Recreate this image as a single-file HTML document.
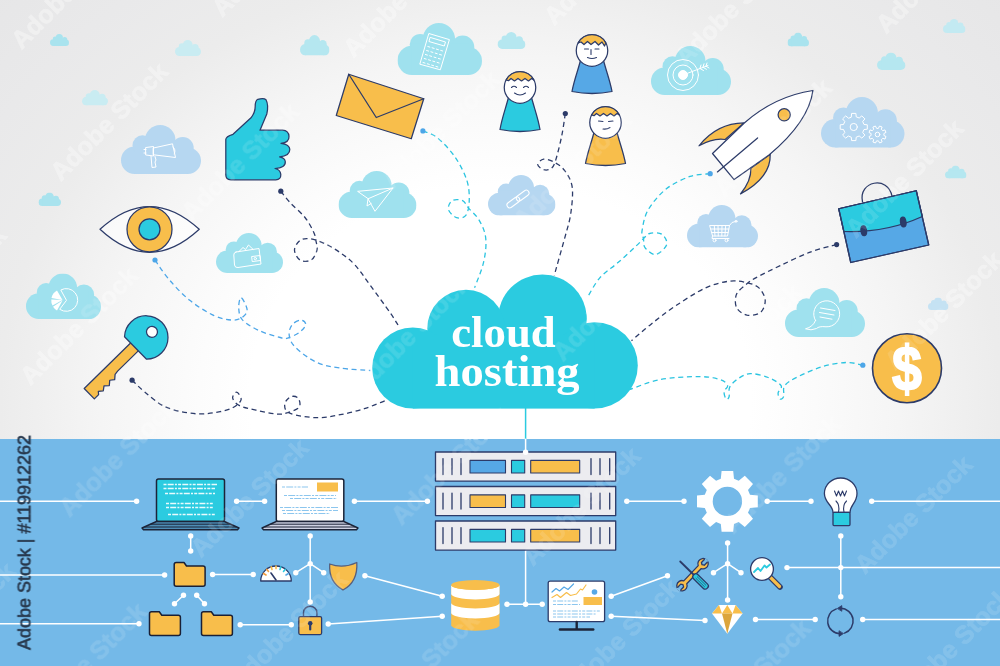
<!DOCTYPE html>
<html>
<head>
<meta charset="utf-8">
<title>cloud hosting</title>
<style>
html,body{margin:0;padding:0;background:#fff;}
body{width:1000px;height:666px;overflow:hidden;font-family:"Liberation Sans",sans-serif;}
svg{display:block}
</style>
</head>
<body>
<svg width="1000" height="666" viewBox="0 0 1000 666">
<defs>
  <radialGradient id="bg" cx="500" cy="400" r="700" gradientUnits="userSpaceOnUse" gradientTransform="translate(500,400) scale(1,0.862) translate(-500,-400)">
    <stop offset="0" stop-color="#ffffff"/>
    <stop offset="0.357" stop-color="#ffffff"/>
    <stop offset="0.43" stop-color="#fcfcfc"/>
    <stop offset="0.571" stop-color="#f5f5f5"/>
    <stop offset="0.664" stop-color="#efefef"/>
    <stop offset="0.714" stop-color="#ececec"/>
    <stop offset="0.85" stop-color="#e9e9ea"/>
    <stop offset="1" stop-color="#e6e6e7"/>
  </radialGradient>
  <symbol id="cl" viewBox="0 0 84.5 51.1" preserveAspectRatio="none">
    <circle cx="14.4" cy="36.7" r="14.4"/>
    <circle cx="22.7" cy="21.2" r="10.5"/>
    <circle cx="41.4" cy="16.2" r="16.2"/>
    <circle cx="65.2" cy="24" r="11.6"/>
    <circle cx="70.7" cy="37.3" r="13.8"/>
    <rect x="14.4" y="20" width="56.3" height="31.1"/>
  </symbol>
<g id="wmt" fill="#ffffff" stroke="#ffffff" stroke-width="0.7" font-family="'Liberation Sans',sans-serif" font-weight="bold" font-size="25.2" text-anchor="middle">
<text transform="translate(-61.8,-51.1) rotate(-45)" y="9">Adobe Stock</text>
<text transform="translate(-52.8,285.0) rotate(-45)" y="9">Adobe Stock</text>
<text transform="translate(-43.8,621.1) rotate(-45)" y="9">Adobe Stock</text>
<text transform="translate(69.5,-10.6) rotate(-45)" y="9">Adobe Stock</text>
<text transform="translate(78.5,325.5) rotate(-45)" y="9">Adobe Stock</text>
<text transform="translate(87.5,661.6) rotate(-45)" y="9">Adobe Stock</text>
<text transform="translate(108.7,121.1) rotate(-45)" y="9">Adobe Stock</text>
<text transform="translate(117.7,457.2) rotate(-45)" y="9">Adobe Stock</text>
<text transform="translate(240.0,161.6) rotate(-45)" y="9">Adobe Stock</text>
<text transform="translate(249.0,497.7) rotate(-45)" y="9">Adobe Stock</text>
<text transform="translate(270.2,-42.8) rotate(-45)" y="9">Adobe Stock</text>
<text transform="translate(279.2,293.3) rotate(-45)" y="9">Adobe Stock</text>
<text transform="translate(288.2,629.4) rotate(-45)" y="9">Adobe Stock</text>
<text transform="translate(401.5,-2.3) rotate(-45)" y="9">Adobe Stock</text>
<text transform="translate(410.5,333.8) rotate(-45)" y="9">Adobe Stock</text>
<text transform="translate(419.5,669.9) rotate(-45)" y="9">Adobe Stock</text>
<text transform="translate(440.7,129.4) rotate(-45)" y="9">Adobe Stock</text>
<text transform="translate(449.7,465.5) rotate(-45)" y="9">Adobe Stock</text>
<text transform="translate(572.0,169.9) rotate(-45)" y="9">Adobe Stock</text>
<text transform="translate(581.0,506.0) rotate(-45)" y="9">Adobe Stock</text>
<text transform="translate(602.2,-34.5) rotate(-45)" y="9">Adobe Stock</text>
<text transform="translate(611.2,301.6) rotate(-45)" y="9">Adobe Stock</text>
<text transform="translate(620.2,637.7) rotate(-45)" y="9">Adobe Stock</text>
<text transform="translate(733.5,6.0) rotate(-45)" y="9">Adobe Stock</text>
<text transform="translate(742.5,342.1) rotate(-45)" y="9">Adobe Stock</text>
<text transform="translate(751.5,678.2) rotate(-45)" y="9">Adobe Stock</text>
<text transform="translate(772.7,137.7) rotate(-45)" y="9">Adobe Stock</text>
<text transform="translate(781.7,473.8) rotate(-45)" y="9">Adobe Stock</text>
<text transform="translate(904.0,178.2) rotate(-45)" y="9">Adobe Stock</text>
<text transform="translate(913.0,514.3) rotate(-45)" y="9">Adobe Stock</text>
<text transform="translate(934.2,-26.2) rotate(-45)" y="9">Adobe Stock</text>
<text transform="translate(943.2,309.9) rotate(-45)" y="9">Adobe Stock</text>
<text transform="translate(952.2,646.0) rotate(-45)" y="9">Adobe Stock</text>
<text transform="translate(1065.5,14.3) rotate(-45)" y="9">Adobe Stock</text>
<text transform="translate(1074.5,350.4) rotate(-45)" y="9">Adobe Stock</text>
</g>
<clipPath id="topclip"><rect x="0" y="0" width="1000" height="439.3"/></clipPath>
</defs>
<!-- BACKGROUND -->
<rect x="0" y="0" width="1000" height="666" fill="url(#bg)"/>
<rect x="0" y="439" width="1000" height="227" fill="#74b9e8"/>

<g clip-path="url(#topclip)"><use href="#wmt" opacity="0.27"/></g>
<!-- SMALL CLOUDS -->
<g id="smallclouds">
<use href="#cl" x="50" y="34" width="19" height="12" fill="#a9e3ee"/>
<use href="#cl" x="175" y="40" width="26" height="16" fill="#c9ecf2"/>
<use href="#cl" x="82" y="90" width="26" height="15.5" fill="#c9ecf2"/>
<use href="#cl" x="300" y="35" width="29.5" height="20.5" fill="#b5e7f0"/>
<use href="#cl" x="497.5" y="32" width="28" height="17" fill="#b5e7f0"/>
<use href="#cl" x="787.5" y="32.5" width="21.5" height="14" fill="#a9e3ee"/>
<use href="#cl" x="877" y="52.5" width="28.5" height="17.5" fill="#b5e7f0"/>
<use href="#cl" x="943" y="19" width="22.5" height="14" fill="#c3eaf2"/>
<use href="#cl" x="38.5" y="192.5" width="22.5" height="13.5" fill="#a9e3ee"/>
<use href="#cl" x="945" y="165.5" width="21.5" height="13" fill="#b5e7f0"/>
<use href="#cl" x="928" y="297.5" width="20.5" height="12.5" fill="#c5e2f3"/>
</g>

<!-- MEDIUM CLOUDS -->
<g id="medclouds">
<use href="#cl" x="121" y="125" width="80" height="49" fill="#b6d7f1"/>
<use href="#cl" x="397.5" y="23" width="84.5" height="52" fill="#9fe1ee"/>
<use href="#cl" x="338.5" y="171" width="78" height="47" fill="#9fe1ee"/>
<use href="#cl" x="216" y="233" width="67" height="40" fill="#9fe1ee"/>
<use href="#cl" x="26" y="273.5" width="75" height="45.5" fill="#9fe1ee"/>
<use href="#cl" x="488" y="175" width="67.5" height="40.5" fill="#b6d7f1"/>
<use href="#cl" x="651" y="46" width="80" height="49" fill="#9fe1ee"/>
<use href="#cl" x="821" y="97" width="83.5" height="50.5" fill="#b6d7f1"/>
<use href="#cl" x="687" y="205" width="71" height="42.5" fill="#b6d7f1"/>
<use href="#cl" x="785" y="288" width="80" height="49" fill="#9fe1ee"/>
</g>

<!-- CLOUD ICONS -->
<g id="cloudicons" fill="none" stroke="#ffffff" stroke-width="1" stroke-linejoin="round" stroke-linecap="round">
<!-- megaphone -->
<path d="M153.5,148 L172.5,143.8 L175.5,157.5 L153.5,154.8 Z M172.8,147 q3.5,2 1.5,7 M146,147.5 L153.5,146.5 L153.5,156 L146,155 Z M144,149.5 l2,0 M144,153 l2,0 M151,156 L152,167.5 L156,167 L155,162 L156,160 L155,156.5"/>
<!-- calculator -->
<path d="M429.2,33.6 L449.4,39.6 L440.3,69.8 L420.2,64.3 Z M430.5,37.5 L445.5,42 L444.3,46 L429.3,41.6 Z"/>
<path d="M427.8,46.5 l2,0.6 m2.3,0.7 l2,0.6 m2.3,0.7 l2,0.6 m2.3,0.7 l2,0.6 M426.6,50.5 l2,0.6 m2.3,0.7 l2,0.6 m2.3,0.7 l2,0.6 m2.3,0.7 l2,0.6 M425.4,54.5 l2,0.6 m2.3,0.7 l2,0.6 m2.3,0.7 l2,0.6 m2.3,0.7 l2,0.6 M424.2,58.5 l2,0.6 m2.3,0.7 l2,0.6 m2.3,0.7 l2,0.6 m2.3,0.7 l2,0.6 M423,62.5 l2,0.6 m2.3,0.7 l2,0.6 m2.3,0.7 l2,0.6 m2.3,0.7 l2,0.6"/>
<!-- paper plane -->
<path d="M358,191.3 L393,188 L375,211.3 L368,198.8 Z M393,188 L368,198.8 L367,206 L371.2,203.5"/>
<!-- wallet -->
<path d="M236,252 L259,248.5 L261,264 L238,267.5 Q235,268 234.5,265 L233.8,255 Q233.6,252.5 236,252 Z M239,251.5 L243,247.5 L245.5,249.5 L248.5,245 L253,249.3 M252,256.5 L260,255.5 L260.6,260.5 L252.6,261.5 Z"/>
<circle cx="255.3" cy="258.6" r="1.2"/>
<!-- pie -->
<path d="M66.3,300 L60.8,290 A11.4,11.4 0 1 1 60,309.5 Z"/>
<path d="M62.5,300 L57,290.5 A11,11 0 0 0 51.5,298 Z M62.5,300 L51.3,299.5 A11,11 0 0 0 52.5,305.5 Z M62.5,300.5 L53,306.8 A11,11 0 0 0 57,310.5 Z" fill="#ffffff" stroke="none"/>
<!-- link -->
<g transform="translate(518,199) rotate(-36)">
<rect x="-13" y="-2.8" width="14.5" height="5.6" rx="2.8"/>
<rect x="-1.5" y="-2.8" width="14.5" height="5.6" rx="2.8"/>
</g>
<!-- target -->
<circle cx="683" cy="75" r="15.5"/><circle cx="683" cy="75" r="10"/><circle cx="683" cy="75" r="4.5" fill="#ffffff"/>
<path d="M683,75 L708,65.5 M700,68.5 l1,-3.5 M700,68.5 l3.5,2 M703,67.3 l1,-3.5 M703,67.3 l3.5,2 M706,66.2 l1,-3.2 M706,66.2 l3,1.8"/>
<!-- gears -->
<path d="M851.3,116.8 L851.6,113.4 L855.9,113.4 L856.2,116.8 L859.2,118.0 L861.8,115.9 L864.9,118.9 L862.7,121.5 L864.0,124.5 L867.3,124.8 L867.3,129.2 L864.0,129.5 L862.7,132.5 L864.9,135.1 L861.8,138.1 L859.2,136.0 L856.2,137.2 L855.9,140.6 L851.6,140.6 L851.3,137.2 L848.3,136.0 L845.7,138.1 L842.6,135.1 L844.8,132.5 L843.5,129.5 L840.2,129.2 L840.2,124.8 L843.5,124.5 L844.8,121.5 L842.6,118.9 L845.7,115.9 L848.3,118.0Z"/>
<circle cx="853.75" cy="127" r="3.6"/>
<path d="M878.5,128.1 L879.5,126.0 L882.1,127.0 L881.3,129.2 L882.7,130.7 L884.9,129.9 L886.0,132.4 L883.9,133.5 L883.9,135.5 L886.0,136.5 L885.0,139.1 L882.8,138.3 L881.3,139.7 L882.1,141.9 L879.6,143.0 L878.5,140.9 L876.5,140.9 L875.5,143.0 L872.9,142.0 L873.7,139.8 L872.3,138.3 L870.1,139.1 L869.0,136.6 L871.1,135.5 L871.1,133.5 L869.0,132.5 L870.0,129.9 L872.2,130.7 L873.7,129.3 L872.9,127.1 L875.4,126.0 L876.5,128.1Z"/>
<circle cx="877.5" cy="134.5" r="2.3"/>
<!-- cart -->
<path d="M710,225.5 L729.5,225.5 L727.5,236 L713,236 Z M729.5,225.5 L732,222.5 L735.5,221.5 M712.5,236 L712,238.5 L729,238.5 M714.3,225.5 l0.7,10.5 M718,225.5 l0.3,10.5 M722,225.5 l-0.2,10.5 M725.7,225.5 l-0.8,10.5 M711,229 l17.8,0 M712,232.5 l16,0"/>
<circle cx="714.5" cy="240.3" r="1.5"/><circle cx="726.5" cy="240.3" r="1.5"/><circle cx="736" cy="221.3" r="1"/>
<!-- chat -->
<path d="M815.5,320.5 A13,13 0 1 1 826,326.8 Q819,326 816.5,328.5 Q811,331 805.5,328.8 Q813,327 815.5,320.5 Z M820.5,308 l14.5,2.5 M819.5,312.5 l14.5,2.5 M820,317 l12,2.2"/>
</g>

<!-- DASHED PATHS -->
<g id="paths" fill="none" stroke-width="1.3" stroke-dasharray="5 3.6" stroke-linecap="butt">
<path d="M155.0,260.0 C157.3,263.3 163.2,272.8 169.1,279.5 C174.9,286.3 182.6,294.6 190.1,300.6 C197.6,306.6 207.1,312.3 214.1,315.6 C221.1,318.8 227.4,319.8 232.1,320.1 C236.9,320.3 240.1,318.8 242.6,317.1 C245.1,315.3 247.4,312.8 247.1,309.6 C246.9,306.3 242.5,297.8 241.1,297.6 C239.7,297.3 238.5,304.3 238.7,308.1 C239.0,311.8 239.2,316.3 242.6,320.1 C246.0,323.8 252.9,327.7 259.2,330.6 C265.4,333.5 275.4,336.3 280.2,337.5 C284.9,338.8 284.4,339.0 287.7,338.1 C290.9,337.2 296.7,334.4 299.7,332.1 C302.7,329.8 305.5,326.6 305.7,324.6 C306.0,322.6 303.5,320.1 301.2,320.1 C298.9,320.1 294.2,322.1 292.2,324.6 C290.2,327.1 288.7,331.4 289.2,335.1 C289.7,338.9 290.7,342.6 295.2,347.1 C299.7,351.6 308.7,358.6 316.2,362.1 C323.7,365.6 331.2,366.7 340.2,368.1 C349.2,369.5 365.3,370.1 370.3,370.5" stroke="#4da6e8"/>
<circle cx="155.0" cy="260.0" r="2.6" fill="#4da6e8" stroke="none"/>
<path d="M132.1,380.2 C134.3,382.2 139.4,387.7 145.0,392.2 C150.7,396.7 157.6,403.6 166.1,407.2 C174.6,410.8 187.1,413.0 196.1,413.8 C205.1,414.5 213.9,412.8 220.1,411.7 C226.4,410.6 230.1,409.2 233.6,407.2 C237.1,405.2 240.6,402.2 241.1,399.7 C241.6,397.2 238.0,392.4 236.6,392.2 C235.2,391.9 232.2,395.9 232.7,398.2 C233.2,400.4 235.7,403.7 239.6,405.7 C243.5,407.7 249.9,408.8 256.2,410.2 C262.4,411.6 271.9,413.7 277.2,414.1 C282.4,414.5 284.0,413.7 287.7,412.6 C291.3,411.4 297.3,409.6 299.1,407.2 C300.9,404.8 299.6,399.9 298.2,398.2 C296.8,396.4 292.9,395.7 290.7,396.7 C288.4,397.7 284.8,401.4 284.7,404.2 C284.5,406.9 284.5,410.9 289.8,413.2 C295.0,415.4 307.8,417.4 316.2,417.7 C324.6,417.9 332.2,416.2 340.2,414.7 C348.2,413.2 356.8,411.0 364.3,408.7 C371.8,406.3 381.8,401.9 385.3,400.6" stroke="#2c3b69"/>
<circle cx="132.1" cy="380.2" r="2.6" fill="#2c3b69" stroke="none"/>
<path d="M280.8,191.2 C282.3,193.1 286.0,198.1 290.0,202.5 C294.0,206.9 301.0,212.5 305.0,217.5 C309.0,222.5 311.9,228.5 313.8,232.5 C315.6,236.5 315.5,238.3 316.0,241.2 C316.5,244.2 317.8,246.9 317.0,250.0 C316.2,253.1 314.1,258.3 311.2,260.0 C308.4,261.7 302.8,261.7 300.0,260.0 C297.2,258.3 294.5,253.2 294.5,250.0 C294.5,246.8 297.4,242.4 300.0,240.5 C302.6,238.6 305.8,238.2 310.0,238.8 C314.2,239.3 320.0,241.5 325.0,243.8 C330.0,246.0 335.0,249.0 340.0,252.5 C345.0,256.0 350.0,259.6 355.0,265.0 C360.0,270.4 364.2,277.1 370.0,285.0 C375.8,292.9 385.3,305.8 390.0,312.5 C394.7,319.2 396.7,322.9 398.0,325.0" stroke="#2c3b69"/>
<circle cx="280.8" cy="191.2" r="2.6" fill="#2c3b69" stroke="none"/>
<path d="M422.9,130.9 C425.3,132.0 431.7,133.2 437.1,137.5 C442.4,141.9 450.1,149.8 455.1,157.1 C460.1,164.3 464.7,173.6 467.1,181.1 C469.4,188.6 469.4,196.3 469.2,202.1 C468.9,207.9 467.7,213.0 465.6,215.6 C463.5,218.2 459.4,218.7 456.6,217.7 C453.7,216.7 449.2,212.5 448.5,209.6 C447.7,206.8 449.7,202.1 452.1,200.6 C454.4,199.1 459.8,199.3 462.6,200.6 C465.3,201.9 465.8,204.9 468.6,208.1 C471.3,211.4 476.2,215.1 479.1,220.1 C482.0,225.1 485.0,231.1 485.7,238.1 C486.5,245.1 485.5,253.9 483.6,262.2 C481.8,270.4 476.1,283.4 474.6,287.7" stroke="#2bc4e0"/>
<circle cx="422.9" cy="130.9" r="2.6" fill="#4da6e8" stroke="none"/>
<path d="M565.3,113.5 C564.7,117.3 563.3,128.3 561.7,136.0 C560.1,143.8 557.4,154.7 555.7,160.1 C553.9,165.5 553.2,166.9 551.2,168.5 C549.2,170.1 545.9,170.3 543.7,169.7 C541.4,169.0 537.7,166.3 537.7,164.6 C537.7,162.8 540.9,159.6 543.7,159.2 C546.4,158.8 550.7,160.3 554.2,162.2 C557.7,164.1 561.7,166.4 564.7,170.6 C567.7,174.7 571.2,179.8 572.2,187.1 C573.2,194.3 571.9,205.6 570.7,214.1 C569.4,222.6 567.4,227.9 564.7,238.1 C561.9,248.4 555.9,269.4 554.2,275.7" stroke="#2c3b69"/>
<circle cx="565.3" cy="113.5" r="2.6" fill="#2c3b69" stroke="none"/>
<path d="M710.2,173.7 C706.9,174.2 697.4,173.9 690.1,176.4 C682.7,179.0 673.1,183.4 666.1,189.0 C659.1,194.6 652.1,203.1 648.0,210.1 C644.0,217.1 642.8,226.3 642.0,231.1 C641.3,235.8 643.0,235.8 643.5,238.6 C644.0,241.3 643.0,244.9 645.0,247.6 C647.0,250.3 652.0,255.0 655.6,254.5 C659.2,254.0 665.7,248.0 666.7,244.6 C667.7,241.2 664.4,235.9 661.6,234.1 C658.7,232.2 652.6,232.7 649.5,233.5 C646.5,234.2 645.8,236.5 643.5,238.6 C641.3,240.7 640.3,242.1 636.0,246.1 C631.8,250.1 624.0,257.4 618.0,262.6 C612.0,267.9 605.2,271.7 600.0,277.6 C594.8,283.5 589.2,294.6 587.0,298.0" stroke="#2bc4e0"/>
<circle cx="710.2" cy="173.7" r="2.6" fill="#4da6e8" stroke="none"/>
<path d="M836.6,244.6 C832.2,245.8 819.6,248.6 810.2,252.1 C800.8,255.6 789.2,261.4 780.2,265.6 C771.2,269.9 761.7,274.6 756.2,277.6 C750.7,280.6 750.4,280.9 747.1,283.6 C743.9,286.4 738.4,290.1 736.6,294.1 C734.9,298.1 734.9,304.2 736.6,307.7 C738.4,311.2 743.1,314.4 747.1,315.2 C751.2,315.9 757.7,314.7 760.7,312.2 C763.7,309.7 765.4,304.2 765.2,300.2 C764.9,296.1 762.2,291.0 759.2,288.1 C756.2,285.2 752.2,283.9 747.1,282.7 C742.1,281.6 736.1,280.3 729.1,281.2 C722.1,282.1 714.1,284.0 705.1,288.1 C696.1,292.3 684.1,300.2 675.1,306.2 C666.1,312.2 658.3,318.4 651.1,324.2 C643.8,329.9 634.8,337.9 631.5,340.7" stroke="#2c3b69"/>
<circle cx="836.6" cy="244.6" r="2.6" fill="#2c3b69" stroke="none"/>
<path d="M862.8,365.2 C860.0,364.7 853.0,362.2 846.2,362.5 C839.5,362.7 830.2,364.3 822.2,366.7 C814.2,369.0 804.5,373.4 798.2,376.6 C791.9,379.7 787.1,382.3 784.7,385.6 C782.3,388.8 784.5,393.8 783.8,396.1 C783.0,398.3 781.1,399.6 780.2,399.1 C779.2,398.6 777.9,395.3 778.1,393.1 C778.2,390.8 782.7,388.2 781.1,385.6 C779.4,383.0 773.3,379.5 768.2,377.5 C763.0,375.5 755.2,373.4 750.2,373.6 C745.1,373.8 741.5,376.4 738.1,378.7 C734.7,380.9 731.2,384.1 729.7,387.1 C728.2,390.1 729.7,394.7 729.1,396.7 C728.5,398.7 727.0,399.9 726.1,399.1 C725.3,398.2 723.8,393.8 724.0,391.6 C724.3,389.3 728.3,387.6 727.6,385.6 C727.0,383.6 724.9,381.1 720.1,379.6 C715.4,378.1 709.1,376.6 699.1,376.6 C689.1,376.6 671.6,377.4 660.1,379.6 C648.5,381.7 635.0,387.8 630.0,389.5" stroke="#2bc4e0"/>
<circle cx="862.8" cy="365.2" r="2.6" fill="#4da6e8" stroke="none"/>

</g>

<!-- MAIN CLOUD -->
<g id="maincloud" fill="#2bcbe0">
<circle cx="542.4" cy="319" r="44.4"/>
<circle cx="466" cy="328.4" r="38.7"/>
<circle cx="412.8" cy="368" r="40.6"/>
<circle cx="594.6" cy="365.4" r="43.2"/>
<rect x="412.8" y="335" width="181.8" height="73.6"/>
</g>
<g fill="#ffffff" font-family="'Liberation Serif',serif" font-weight="bold" font-size="44.4">
<text x="451.2" y="346.8" textLength="104.5" lengthAdjust="spacingAndGlyphs">cloud</text>
<text x="434.6" y="386.1" textLength="145" lengthAdjust="spacingAndGlyphs">hosting</text>
</g>

<!-- TOP ICONS -->
<g id="topicons" stroke="#2c3b69" stroke-width="1.25" stroke-linejoin="round" stroke-linecap="round">
<!-- thumb -->
<path d="M225.8,139.5 L225.8,174.8 Q225.8,179.8 230.8,179.8 L275.8,179.8 Q281,179.8 280.8,174.4 Q280.3,169.6 275,168.5 Q285.6,168 285.3,161.8 Q285,157.9 279.6,156.8 Q290,156 289.8,149.3 Q289.6,144.4 281,143.3 Q289.3,142.5 289,136.5 Q288.6,130.5 282.6,130.2 L260,130.2 L266.8,114 Q268.8,105 266,99.8 Q263.8,97.5 257.8,99.3 Q255.2,100.5 255.2,106.5 Q255.2,112.5 251,117.8 L233,134.3 Q225.8,136.5 225.8,139.5 Z" fill="#2bcbe0"/>
<!-- envelope -->
<path d="M348.75,74.25 L423.75,98.75 L411.25,138.75 L336.25,115.5 Z" fill="#f8be4b"/>
<path d="M348.75,74.25 L376.25,117.5 L423.75,98.75" fill="none"/>
<!-- person 1 -->
<g transform="translate(520,87.5)">
<path d="M-11,8 C-14,20 -18,30 -20,42 Q0,46 20,42 C18,30 14,20 11,8 Z" fill="#2bcbe0"/>
<circle r="15.75" fill="#ffffff"/>
<path d="M-13.85,-7.5 A15.75,15.75 0 0 1 13.85,-7.5 L11.5,-9 L8.5,-6.6 L5,-9 L1.5,-6.6 L-2,-9 L-5.5,-6.6 L-9,-9 L-11.5,-6.8 Z" fill="#f8be4b"/>
<path d="M-8.5,0 q2.5,-2.5 5,0 M3.5,0 q2.5,-2.5 5,0 M-5.5,5.5 q5.5,4 11,0" fill="none" stroke-width="1.1"/>
</g>
<!-- person 2 -->
<g transform="translate(592,50.5)">
<path d="M-11,8 C-14,20 -18,30 -20,41 Q0,45 20,41 C18,30 14,20 11,8 Z" fill="#56a8e6"/>
<circle r="15.75" fill="#ffffff"/>
<path d="M-13.85,-7.5 A15.75,15.75 0 0 1 13.85,-7.5 L12.5,-4.5 L10,-8.5 L6.5,-5.5 L3,-9 L-1,-6 L-4.5,-9 L-8,-6 L-11,-8.5 Z" fill="#f8be4b"/>
<path d="M-7.5,-1.5 l4,0 M3,-1.5 l4,0 M-1,-1 l0,5 M-4.5,7 q4.5,2 9,0" fill="none" stroke-width="1.1"/>
</g>
<!-- person 3 -->
<g transform="translate(605.5,122.5)">
<path d="M-11,8 C-14,20 -18,30 -20,41 Q0,45 20,41 C18,30 14,20 11,8 Z" fill="#f8be4b"/>
<circle r="15.75" fill="#ffffff"/>
<path d="M-13.85,-7.5 A15.75,15.75 0 0 1 13.85,-7.5 L11.5,-9 L8.5,-6.6 L5,-9 L1.5,-6.6 L-2,-9 L-5.5,-6.6 L-9,-9 L-11.5,-6.8 Z" fill="#f8be4b"/>
<path d="M-7,-1.5 l4.5,0.5 M3,-1 l4.5,-0.5 M-2.5,6.5 q4,0.5 7,-1.5" fill="none" stroke-width="1.1"/>
</g>
<!-- rocket -->
<path d="M744,122.9 Q717,123.2 699,145.8 Q713.4,137.7 725.1,139.5 Z" fill="#f8be4b"/>
<path d="M770.2,154.2 Q771.1,177.3 740.5,193.9 Q751.3,180.9 750.9,168.3 Z" fill="#f8be4b"/>
<path d="M712.5,153.5 L744,123.2 Q774.7,96.2 812.9,90.5 Q808.9,121.4 769.3,154.8 L734.1,179.6 Z" fill="#ffffff"/>
<path d="M757.6,138 L717.4,171.9" fill="none"/>
<circle cx="784.2" cy="114.8" r="6.1" fill="#f8be4b"/>
<!-- briefcase -->
<path d="M862.5,201.75 C858,181 888,175 892,196.25" fill="none"/>
<path d="M838.75,208.75 L916.25,190.75 L928.75,245 L850.75,262.5 Z" fill="#56a8e6"/>
<path d="M838.75,208.75 L916.25,190.75 L922.3,216.5 Q886,233 843.9,231.5 Z" fill="#2bcbe0"/>
<ellipse cx="863.75" cy="230.75" rx="2.75" ry="5" fill="#2c3b69" transform="rotate(-8 863.75 230.75)"/>
<ellipse cx="903.25" cy="222" rx="2.75" ry="5" fill="#2c3b69" transform="rotate(-8 903.25 222)"/>
<path d="M838.75,208.75 L916.25,190.75 L928.75,245 L850.75,262.5 Z" fill="none"/>
<!-- dollar coin -->
<circle cx="907" cy="368.25" r="34.5" fill="#f8be4b" stroke-width="1.6"/>
<text transform="translate(907,390.3) scale(0.96,1.14)" x="0" y="0" text-anchor="middle" font-family="'Liberation Sans',sans-serif" font-weight="bold" font-size="56" fill="#ffffff" stroke="#ffffff" stroke-width="1.6" stroke-linejoin="miter">$</text>
<!-- eye -->
<path d="M100,229.3 Q149.5,183.8 199.25,229.3 Q149.5,275.3 100,229.3 Z" fill="#ffffff" fill-opacity="0.6"/>
<circle cx="149.5" cy="229.3" r="22.5" fill="#f8be4b"/>
<circle cx="149.5" cy="229.3" r="10.5" fill="#2bcbe0"/>
<!-- key -->
<g transform="translate(146.25,337.5) rotate(135.6)">
<path d="M14,7 L80,7 L80,-7.5 L74,-7.5 L72,-5 L68,-8 L64,-5 L60,-8.5 L56,-5 L52,-8 L48,-4.5 L44,-4 L14,-4 Z" fill="#f8be4b"/>
<path d="M15,-15.75 A21.75,21.75 0 1 0 15,15.75 Z" fill="#2bcbe0"/>
<circle cx="-8" cy="0" r="5.5" fill="#ffffff"/>
</g>
</g>

<!-- BOTTOM BAND -->
<g id="band">
<!-- connector lines -->
<g stroke="#ffffff" stroke-width="1.5" fill="none" stroke-linecap="round">
<path d="M525.6,408 L525.6,439.3" stroke="#2bcbe0"/><path d="M525.6,439.3 L525.6,452.6"/>
<path d="M0,501.3 L136.6,501.3 M236.6,501.3 L264.6,501.3 M354.4,501.3 L427.4,501.3 M626.8,501.3 L684,501.3 M767.2,501.3 L811,501.3 M871.7,501.3 L1000,501.3"/>
<path d="M190.7,536 L190.7,551 M310.2,536 L310.2,602 M310.2,563.7 L295.8,572.7 M310.2,563.7 L323.7,572.7"/>
<path d="M0,575 L164.6,575 M212.6,574.5 L253.2,574.5 M364.9,575.7 L442.2,596.2 M328.2,624 L442.2,616.3"/>
<path d="M183.5,595.3 L174.5,603.7 M196.7,595.3 L204.5,603.7"/>
<path d="M0,623.8 L139,623.8 M240.2,624.7 L291.3,624.7"/>
<path d="M525.6,550.2 L525.6,604.3 M507,604.3 L542.2,604.3"/>
<path d="M611.2,596.2 L667.5,575.7 M611.2,616.3 L705,620.5"/>
<path d="M727.6,543 L727.6,600 M727.6,563.7 L713.5,572.7 M727.6,563.7 L741,572.7"/>
<path d="M787,567.6 L1000,567.6 M840.8,536 L840.8,596.7"/>
<path d="M755.5,619.5 L815.2,619.5 M862.7,619.5 L1000,619.5"/>
</g>
<g fill="#ffffff" stroke="none">
<circle cx="136.6" cy="501.3" r="2.7"/><circle cx="236.6" cy="501.3" r="2.7"/><circle cx="264.6" cy="501.3" r="2.7"/><circle cx="354.4" cy="501.3" r="2.7"/><circle cx="427.4" cy="501.3" r="2.7"/><circle cx="626.8" cy="501.3" r="2.7"/><circle cx="684" cy="501.3" r="2.7"/><circle cx="767.2" cy="501.3" r="2.7"/><circle cx="811" cy="501.3" r="2.7"/><circle cx="871.7" cy="501.3" r="2.7"/>
<circle cx="190.7" cy="536" r="2.7"/><circle cx="190.7" cy="551" r="2.7"/><circle cx="310.2" cy="536" r="2.7"/><circle cx="310.2" cy="602" r="2.7"/><circle cx="310.2" cy="563.7" r="2.7"/><circle cx="295.8" cy="572.7" r="2.7"/><circle cx="323.7" cy="572.7" r="2.7"/>
<circle cx="164.6" cy="575" r="2.7"/><circle cx="212.6" cy="574.5" r="2.7"/><circle cx="253.2" cy="574.5" r="2.7"/><circle cx="364.9" cy="575.7" r="2.7"/><circle cx="442.2" cy="596.2" r="2.7"/><circle cx="328.2" cy="624" r="2.7"/><circle cx="442.2" cy="616.3" r="2.7"/>
<circle cx="183.5" cy="595.3" r="2.7"/><circle cx="174.5" cy="603.7" r="2.7"/><circle cx="196.7" cy="595.3" r="2.7"/><circle cx="204.5" cy="603.7" r="2.7"/>
<circle cx="139" cy="623.8" r="2.7"/><circle cx="240.2" cy="624.7" r="2.7"/><circle cx="291.3" cy="624.7" r="2.7"/>
<circle cx="525.6" cy="604.3" r="2.7"/><circle cx="507" cy="604.3" r="2.7"/><circle cx="542.2" cy="604.3" r="2.7"/>
<circle cx="611.2" cy="596.2" r="2.7"/><circle cx="667.5" cy="575.7" r="2.7"/><circle cx="611.2" cy="616.3" r="2.7"/><circle cx="705" cy="620.5" r="2.7"/>
<circle cx="727.6" cy="543" r="2.7"/><circle cx="727.6" cy="600" r="2.7"/><circle cx="727.6" cy="563.7" r="2.7"/><circle cx="713.5" cy="572.7" r="2.7"/><circle cx="741" cy="572.7" r="2.7"/>
<circle cx="787" cy="567.6" r="2.7"/><circle cx="840.8" cy="536" r="2.7"/><circle cx="840.8" cy="596.7" r="2.7"/><circle cx="840.8" cy="567.6" r="2.7"/>
<circle cx="755.5" cy="619.5" r="2.7"/><circle cx="815.2" cy="619.5" r="2.7"/><circle cx="862.7" cy="619.5" r="2.7"/>
</g>
<g stroke="#2c3b69" stroke-width="1.3" stroke-linejoin="round" stroke-linecap="round">
<!-- laptop 1 -->
<rect x="156.5" y="479" width="68" height="42.5" rx="2" fill="#2bcbe0" stroke="#1c2438" stroke-width="1.5"/>
<path d="M156.5,521.5 L224.5,521.5 L239,528 L237.5,529.8 L143.5,529.8 L142,528 Z" fill="#4d8db6" stroke="#1c2438" stroke-width="1.4"/>
<path d="M151,524.2 L230,524.2 M145,527 L236,527" stroke="#1c2438" stroke-width="1"/>
<g stroke="#e8fbfd" stroke-width="1.3" stroke-dasharray="3 1.2 6 1.2 2 1.2" stroke-linecap="butt">
<path d="M163.5,484.5 L217,484.5 M163.5,488.5 L215,488.5 M165,493.5 L215,493.5 M166,503.5 L213,503.5 M166,507.5 L214,507.5 M168,514.5 L215,514.5"/>
</g>
<!-- laptop 2 -->
<rect x="276.3" y="479" width="67.5" height="42.5" rx="2" fill="#ffffff" stroke="#1c2438" stroke-width="1.5"/>
<path d="M276.3,521.5 L343.8,521.5 L358,528 L356.5,529.8 L263.5,529.8 L262,528 Z" fill="#cdd1e2" stroke="#1c2438" stroke-width="1.4"/>
<path d="M271,524.2 L349,524.2 M265,527 L355,527" stroke="#1c2438" stroke-width="1"/>
<rect x="317" y="482.5" width="21" height="9" fill="#f8be4b" stroke="none"/>
<g stroke="#8cc6ee" stroke-width="1.2" stroke-dasharray="3 1.2 7 1.2 2 1.2" stroke-linecap="butt">
<path d="M282,487 L308,487 M284,495.5 L336,495.5 M290,498.5 L337,498.5 M280,507.5 L339,507.5 M282,510.5 L338,510.5 M283,513.5 L330,513.5"/>
</g>
<!-- folders -->
<path id="fold1" stroke="#1a2036" stroke-width="1.5" d="M176.2,562.5 L184,562.5 L186.5,566 L203,566 Q205.1,566 205.1,568 L205.1,584.2 Q205.1,586.2 203,586.2 L176.2,586.2 Q174.2,586.2 174.2,584.2 L174.2,564.5 Q174.2,562.5 176.2,562.5 Z" fill="#f8be4b"/>
<use href="#fold1" x="-24.7" y="49.3"/>
<use href="#fold1" x="27.3" y="49.3"/>
<!-- speedometer -->
<path d="M260.7,581 A15.3,15 0 0 1 291.3,581 Z" fill="#ffffff"/>
<path d="M266,575 l-2.5,-1.5" stroke="#f39c3c" stroke-width="1.6"/>
<path d="M268.5,571.5 l-1.8,-2.2" stroke="#f39c3c" stroke-width="1.6"/>
<path d="M272,569.5 l-0.8,-2.6" stroke="#f8be4b" stroke-width="1.6"/>
<path d="M276,568.6 l0,-2.6" stroke="#f8be4b" stroke-width="1.6"/>
<path d="M280,569.5 l0.8,-2.6" stroke="#2bcbe0" stroke-width="1.6"/>
<path d="M283.5,571.5 l1.8,-2.2" stroke="#2bcbe0" stroke-width="1.6"/>
<path d="M286,575 l2.5,-1.5" stroke="#56a8e6" stroke-width="1.6"/>
<path d="M276,580 L271,573" stroke-width="1.6"/>
<!-- shield -->
<path d="M329.7,564 Q343,569 356.8,562.5 Q358,582 343,590 Q328.5,582 329.7,564 Z" fill="#f8be4b" stroke="#56607f"/>
<!-- lock -->
<path d="M303.5,616.6 L303.5,612.5 A6.7,6.2 0 0 1 316.9,612.5 L316.9,616.6" fill="none" stroke-width="1.4" stroke="#44527a"/>
<rect x="298.8" y="616.6" width="22.8" height="18" rx="1.5" fill="#f8be4b"/>
<circle cx="310.2" cy="623.3" r="2.3" fill="#2c3b69" stroke="none"/>
<path d="M310.2,624 L310.2,629.5" stroke-width="2.2"/>
<!-- server -->
<g id="srv">
<rect x="435.5" y="452" width="180.2" height="29.1" fill="#ececf0"/>
<path d="M443,458.6 v16 M452,458.6 v16 M461,458.6 v16 M591,458.6 v16 M600,458.6 v16 M609.7,458.6 v16" fill="none"/>
</g>
<use href="#srv" y="34.5"/>
<use href="#srv" y="69"/>
<g stroke-width="1.1">
<rect x="470" y="460.4" width="35.5" height="12.6" fill="#56a8e6"/><rect x="511.5" y="460.4" width="13.2" height="12.6" fill="#2bcbe0"/><rect x="530.7" y="460.4" width="49" height="12.6" fill="#f8be4b"/>
<rect x="470" y="494.9" width="35.5" height="12.6" fill="#f8be4b"/><rect x="511.5" y="494.9" width="13.2" height="12.6" fill="#2bcbe0"/><rect x="530.7" y="494.9" width="49" height="12.6" fill="#2bcbe0"/>
<rect x="470" y="529.4" width="35.5" height="12.6" fill="#2bcbe0"/><rect x="511.5" y="529.4" width="13.2" height="12.6" fill="#2bcbe0"/><rect x="530.7" y="529.4" width="49" height="12.6" fill="#f8be4b"/>
</g>
<circle cx="525.6" cy="452.3" r="2.7" fill="#ffffff" stroke="none"/>
<!-- database -->
<g stroke="none">
<path d="M451.2,585 L451.2,625.3 A24.15,5.4 0 0 0 499.5,625.3 L499.5,585 Z" fill="#f8be4b"/>
<path d="M451.2,585 A24.15,5 0 0 0 499.5,585 L499.5,594 A24.15,5.4 0 0 1 451.2,594 Z" fill="#ffffff"/>
<path d="M451.2,603 A24.15,5.4 0 0 0 499.5,603 L499.5,613 A24.15,5.4 0 0 1 451.2,613 Z" fill="#ffffff"/>
<ellipse cx="475.35" cy="585" rx="24.15" ry="5" fill="#f8be4b"/>
</g>
<!-- monitor -->
<rect x="548.2" y="581.1" width="56.4" height="40.6" rx="2" fill="#ffffff"/>
<path d="M576.7,622 L576.7,628.5" stroke="#1c2438" stroke-width="2.4"/>
<path d="M560,629.5 L593.2,629.5" stroke="#1c2438" stroke-width="2.6"/>
<path d="M552,592 l4,-3.5 l3.5,2.5 l4.5,-4 l4,2.5 l5.5,-5.5" fill="none" stroke="#56a8e6" stroke-width="1.2"/>
<path d="M552,597.5 l5,-3 l3.5,3 l6,-5 l4,3 l6,-1.5 l4,-5 l2,1 l3.5,-5" fill="none" stroke="#f8be4b" stroke-width="1.2"/>
<circle cx="594.5" cy="592" r="2.8" fill="#56a8e6" stroke="none"/>
<rect x="583.5" y="597" width="18.5" height="8" fill="#f8be4b" stroke="none"/>
<g stroke="#8cc6ee" stroke-width="1.1" stroke-dasharray="3 1.2 6 1.2 2 1.2" stroke-linecap="butt">
<path d="M553,601 L578,601 M553,604.5 L580,604.5 M553,611 L600,611 M553,614 L596,614 M553,617 L590,617"/>
</g>
<!-- gear -->
<path d="M720.8,478.8 L721.6,471.0 L733.2,471.0 L734.0,478.8 L738.7,480.8 L744.8,475.8 L753.0,484.0 L748.0,490.1 L750.0,494.8 L757.8,495.6 L757.8,507.2 L750.0,508.0 L748.0,512.7 L753.0,518.8 L744.8,527.0 L738.7,522.0 L734.0,524.0 L733.2,531.8 L721.6,531.8 L720.8,524.0 L716.1,522.0 L710.0,527.0 L701.8,518.8 L706.8,512.7 L704.8,508.0 L697.0,507.2 L697.0,495.6 L704.8,494.8 L706.8,490.1 L701.8,484.0 L710.0,475.8 L716.1,480.8Z M712.7,501.4 a14.7,14.7 0 1 0 29.4,0 a14.7,14.7 0 1 0 -29.4,0Z" fill="#ffffff" fill-rule="evenodd" stroke="none"/>
<!-- bulb -->
<path d="M833,512.4 C833,505 824.4,503 824.4,493.5 A16.3,15.5 0 1 1 857,493.5 C857,503 850,505 850,512.4 Z" fill="#ffffff"/>
<rect x="833" y="512.4" width="17" height="13.2" rx="1" fill="#2bcbe0"/>
<path d="M834.5,491 l2,5 l2,-5 l2,5 l2,-5 l2,5 l2,-5 M836,501 Q840,505 838.5,512 M846.5,501 Q842.5,505 844,512" fill="none" stroke-width="1.1"/>
<!-- tools -->
<g transform="translate(692.5,574.7) rotate(-46.3)">
<path d="M-11,-2 L11,-2 L11,2 L-11,2 Z" fill="#f8be4b" stroke="none"/>
<path d="M-10.5,-2.1 A5.2,5.2 0 1 0 -10.5,2.1 L10.5,2.1 A5.2,5.2 0 1 0 10.5,-2.1 Z" fill="#f8be4b"/>
<path d="M-21,-2 L-15,-2 L-13.8,0 L-15,2 L-21,2 Z" fill="#74b9e8" stroke="none"/>
<path d="M21,-2 L15,-2 L13.8,0 L15,2 L21,2 Z" fill="#74b9e8" stroke="none"/>
<path d="M-19.2,-2 L-15,-2 L-13.8,0 L-15,2 L-19.2,2 M19.2,-2 L15,-2 L13.8,0 L15,2 L19.2,2" fill="none"/>
</g>
<g transform="translate(680.2,561.5) rotate(44.4)">
<path d="M0,0 L20,0" stroke-width="1.8"/>
<rect x="19" y="-3" width="19" height="6" rx="2.6" fill="#2bcbe0"/>
<path d="M23,-1 L35,-1 M23,1 L35,1" stroke-width="0.7"/>
</g>
<!-- magnifier -->
<path d="M770,577 L780,587" stroke="#2c3b69" stroke-width="5.6"/>
<path d="M770.5,577.5 L779.5,586.5" stroke="#f8be4b" stroke-width="3.2"/>
<circle cx="762" cy="569" r="11.4" fill="#ffffff"/>
<path d="M754,572 l4,-4 l2.5,3 l4,-5.5 l2,2 l3.5,-3" fill="none" stroke="#2bcbe0" stroke-width="1.8"/>
<!-- diamond -->
<path d="M719,605 L735.6,605 L742.6,613.5 L727.3,633.7 L712,613.5 Z" fill="#ffffff" stroke="none"/>
<path d="M712,613.5 L719,605 L722,613.5 L727.3,605 L732.5,613.5 L735.6,605 L742.6,613.5 Z" fill="#f8be4b" stroke="none"/>
<path d="M722,613.5 L732.5,613.5 L727.3,633.7 Z" fill="#dca53c" stroke="none"/>
<!-- refresh -->
<g fill="none" stroke-width="1.5">
<path d="M844.5,633.1 A12.8,12.8 0 0 0 840.5,608.2"/>
<path d="M836.3,608.9 A12.8,12.8 0 0 0 840.3,633.8"/>
<path d="M837.6,608.3 L841.8,605.6 L841.8,610.9 Z" fill="#2c3b69" stroke-width="0.8"/>
<path d="M843.2,633.7 L839,636.4 L839,631.1 Z" fill="#2c3b69" stroke-width="0.8"/>
</g>
</g>
</g>

<!-- watermark -->
<use href="#wmt" opacity="0.12"/>
<!-- side text -->
<text transform="translate(30.5,650) rotate(-90)" font-family="'Liberation Sans',sans-serif" font-size="17.5" fill="#27384d" stroke="#27384d" stroke-width="0.6" textLength="215" lengthAdjust="spacingAndGlyphs">Adobe Stock | #119912262</text>
</svg>
</body>
</html>
